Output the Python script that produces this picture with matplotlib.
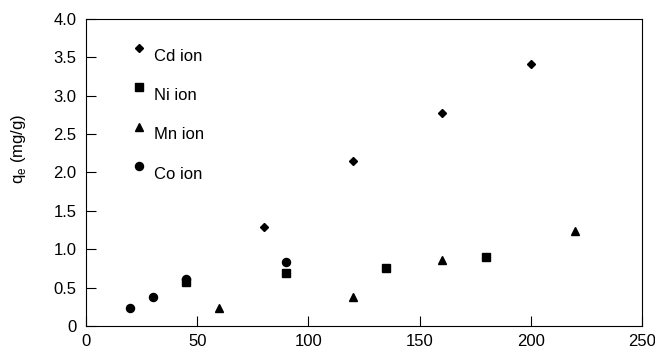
import numpy as np
import matplotlib
matplotlib.use('Agg')
import matplotlib.pyplot as plt
from matplotlib.ticker import FuncFormatter
from matplotlib.legend_handler import HandlerLine2D

# data
cd_x = [80, 120, 160, 200]
cd_y = [1.29, 2.15, 2.77, 3.42]
ni_x = [45, 90, 135, 180]
ni_y = [0.57, 0.69, 0.76, 0.90]
mn_x = [60, 120, 160, 220]
mn_y = [0.23, 0.38, 0.86, 1.24]
co_x = [20, 30, 45, 90]
co_y = [0.23, 0.38, 0.61, 0.83]

x_ticks = [0, 50, 100, 150, 200, 250]
y_ticks = [0, 0.5, 1.0, 1.5, 2.0, 2.5, 3.0, 3.5, 4.0]

plt.rcParams['font.family'] = ['Liberation Sans', 'DejaVu Sans']
fs = 12


class RaisedHandler(HandlerLine2D):
    # legend markers sit a little above the text centre in the original
    def create_artists(self, legend, orig_handle, xdescent, ydescent,
                       width, height, fontsize, trans):
        arts = super().create_artists(legend, orig_handle, xdescent, ydescent,
                                      width, height, fontsize, trans)
        for a in arts:
            a.set_ydata(np.asarray(a.get_ydata()) + 0.42 * fontsize)
        return arts


fig = plt.figure(figsize=(6.55, 3.56), dpi=100)
ax = fig.add_axes([0.1313, 0.0843, 0.8487, 0.8623])

ax.plot(cd_x, cd_y, 'D', color='black', ms=4.1, ls='none', label='Cd ion')
ax.plot(ni_x, ni_y, 's', color='black', ms=5.6, ls='none', label='Ni ion')
ax.plot(mn_x, mn_y, '^', color='black', ms=6.0, ls='none', label='Mn ion')
ax.plot(co_x, co_y, 'o', color='black', ms=5.8, ls='none', label='Co ion')

ax.set_xlim(0, 250)
ax.set_ylim(0, 4.0)
ax.set_xticks(x_ticks)
ax.set_yticks(y_ticks)
ax.yaxis.set_major_formatter(FuncFormatter(lambda v, p: '0' if v == 0 else '%.1f' % v))

ax.tick_params(direction='in', length=7, width=0.8, labelsize=fs)
ax.tick_params(axis='x', pad=6)
ax.tick_params(axis='y', pad=7)
for s in ax.spines.values():
    s.set_linewidth(0.8)

ax.set_ylabel('q$_\\mathregular{e}$ (mg/g)', fontsize=fs)
ax.yaxis.set_label_coords(-0.104, 0.577)

ax.legend(loc='upper left', bbox_to_anchor=(0.086, 0.902), frameon=False,
          fontsize=fs, labelspacing=1.45, handletextpad=0.6, handlelength=0.6,
          borderaxespad=0, borderpad=0,
          handler_map={matplotlib.lines.Line2D: RaisedHandler()})

fig.savefig('out.png', dpi=100)
plt.close()
